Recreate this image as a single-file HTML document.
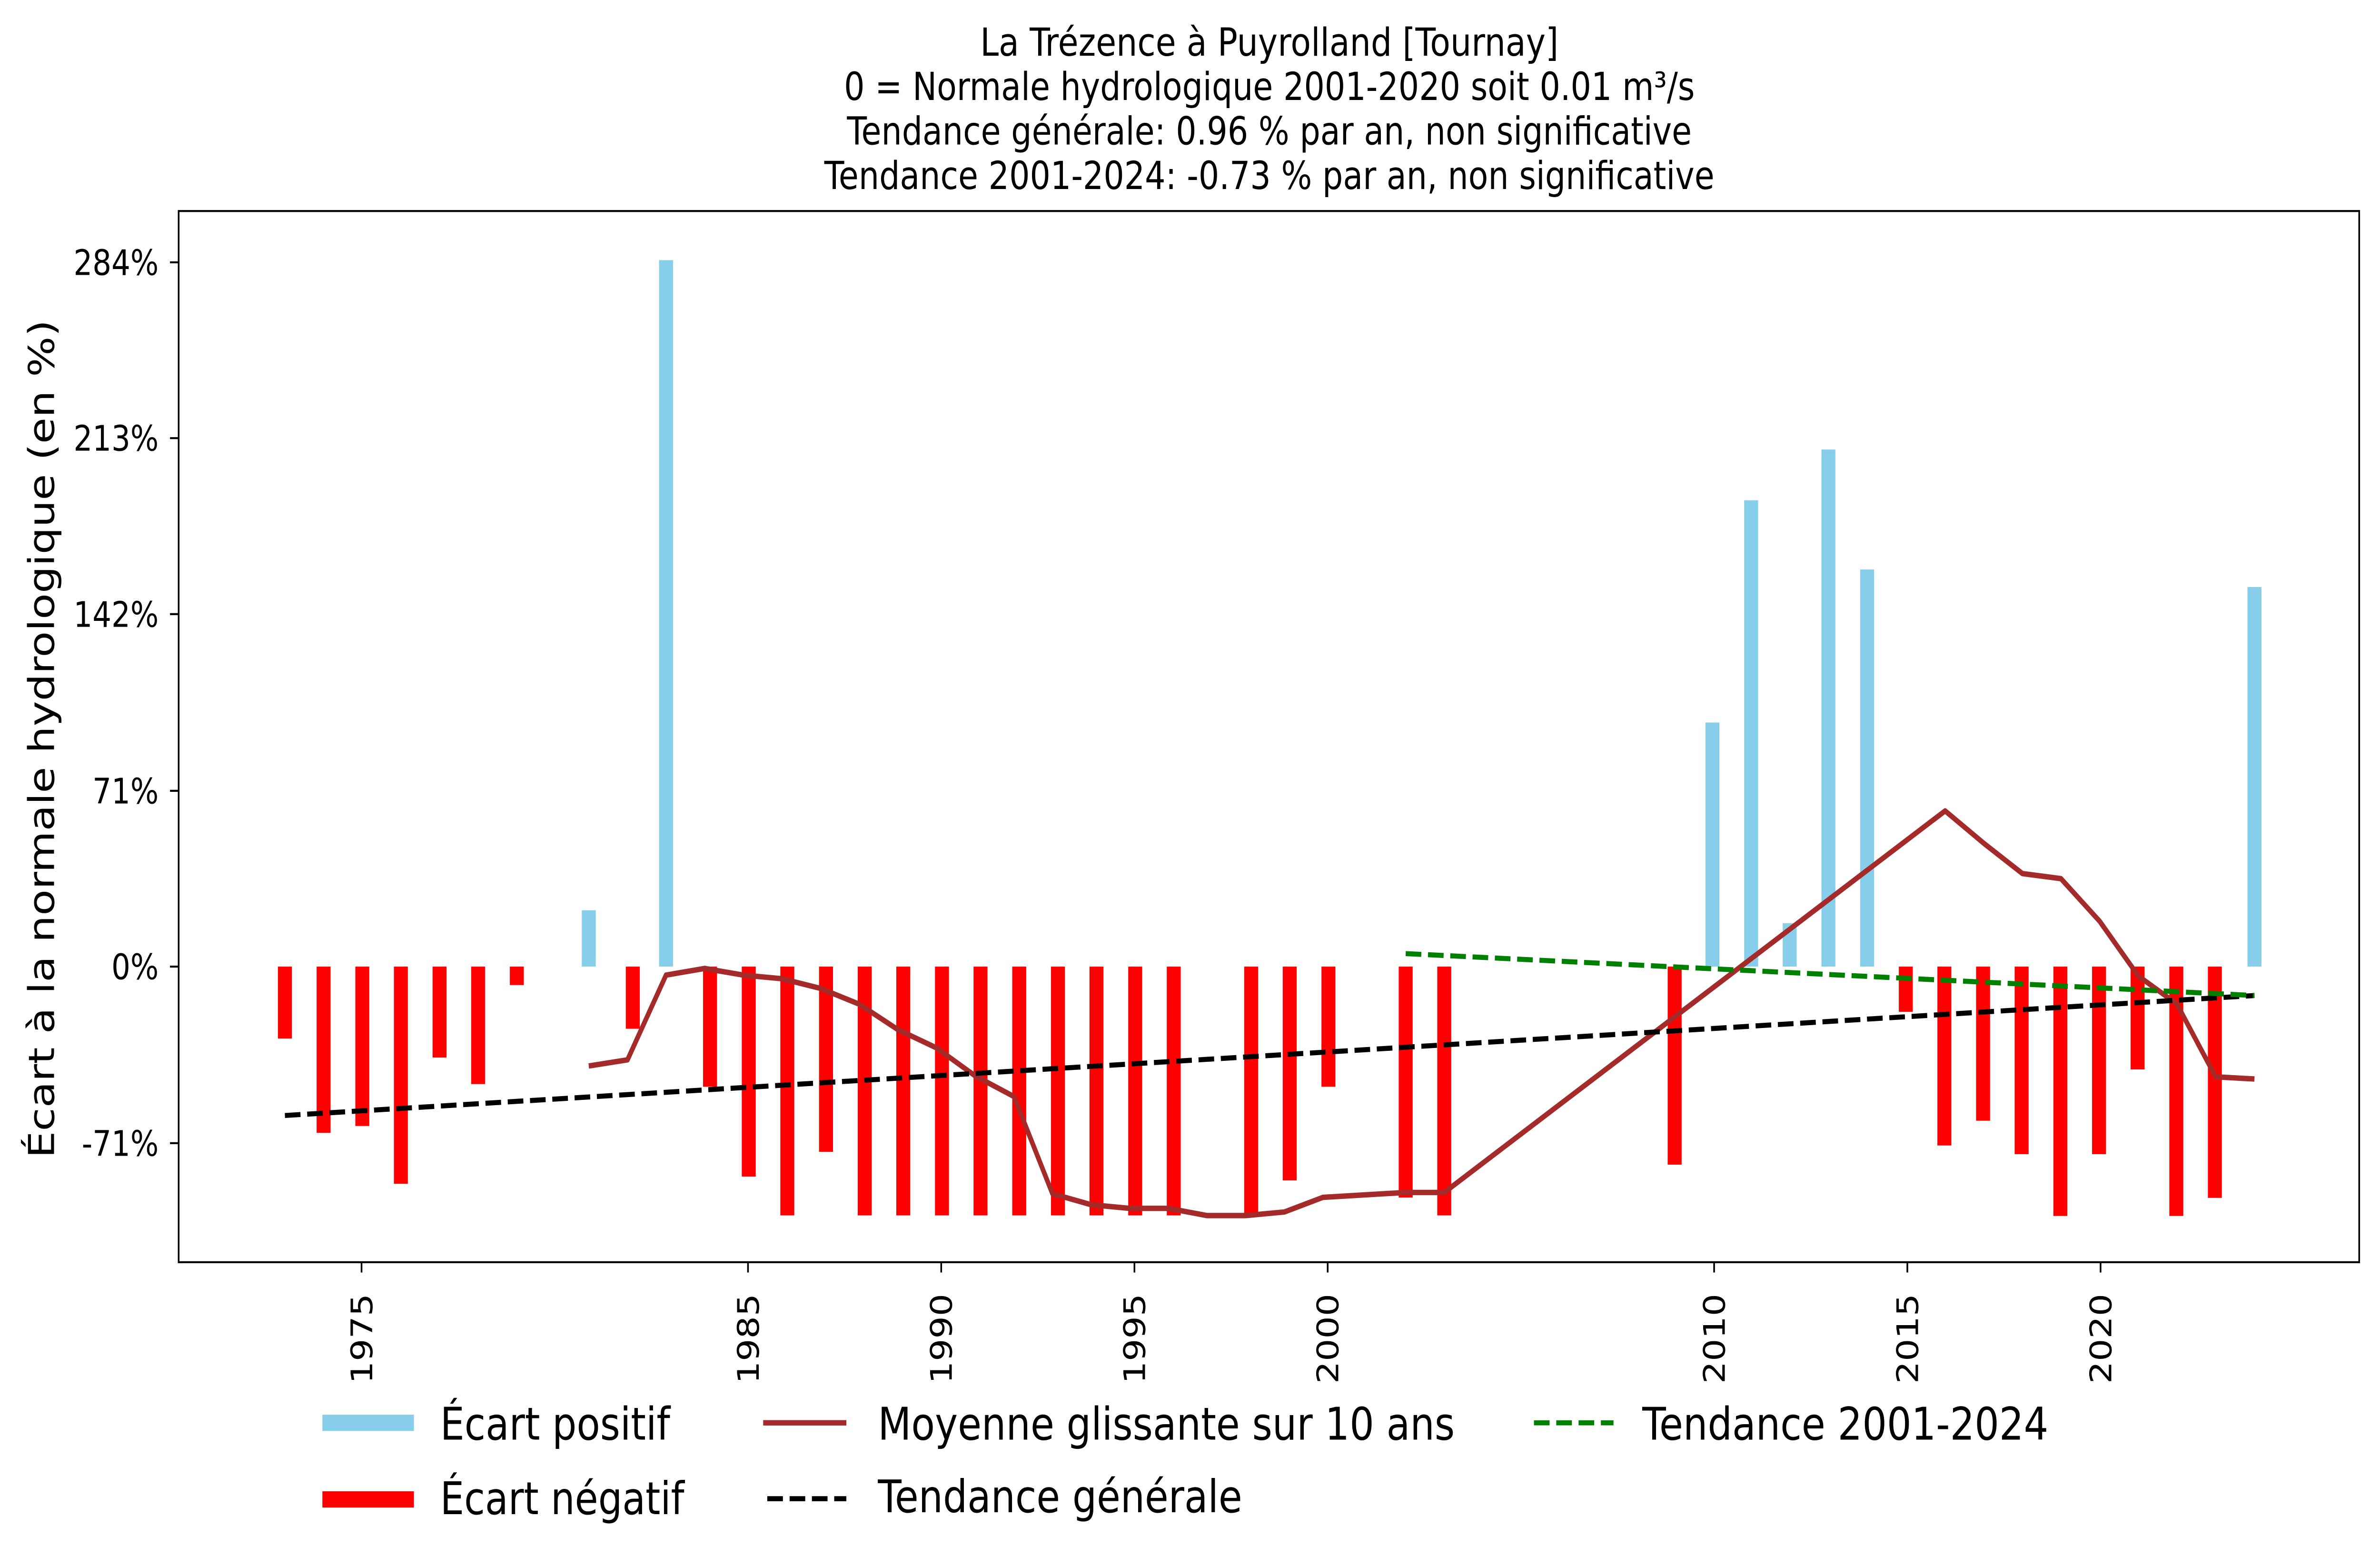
<!DOCTYPE html>
<html><head><meta charset="utf-8"><style>
html,body{margin:0;padding:0;background:#fff;width:100%;height:100%;overflow:hidden;}
svg{display:block;width:100vw;height:100vh;}
text{font-family:"DejaVu Sans","Liberation Sans",sans-serif;fill:#000;}
</style></head><body>
<svg xmlns="http://www.w3.org/2000/svg" viewBox="0 0 1568 867.3" preserveAspectRatio="none">
<rect x="0" y="0" width="1568" height="867.3" fill="#fff"/>
<g font-size="21.4" text-anchor="middle">
<text x="836.3" y="30.8" textLength="381" lengthAdjust="spacingAndGlyphs">La Trézence à Puyrolland [Tournay]</text>
<text x="836.3" y="55.3">0 = Normale hydrologique 2001-2020 soit 0.01 m³/s</text>
<text x="836.3" y="80">Tendance générale: 0.96 % par an, non significative</text>
<text x="836.3" y="104.6">Tendance 2001-2024: -0.73 % par an, non significative</text>
</g>
<g fill="#87ceeb">
<rect x="383.3" y="503.8" width="9.2" height="31.2"/>
<rect x="434.2" y="144" width="9.2" height="391"/>
<rect x="1123.6" y="399.9" width="9.2" height="135.1"/>
<rect x="1149.1" y="276.9" width="9.2" height="258.1"/>
<rect x="1174.5" y="511" width="9.2" height="24"/>
<rect x="1200" y="248.8" width="9.2" height="286.2"/>
<rect x="1225.5" y="315.2" width="9.2" height="219.8"/>
<rect x="1480.7" y="324.9" width="9.2" height="210.1"/>
</g>
<g fill="#ff0000">
<rect x="183.1" y="535" width="9.2" height="39.8"/>
<rect x="208.6" y="535" width="9.2" height="92"/>
<rect x="234.1" y="535" width="9.2" height="88.2"/>
<rect x="259.5" y="535" width="9.2" height="120.2"/>
<rect x="285" y="535" width="9.2" height="50.3"/>
<rect x="310.4" y="535" width="9.2" height="65"/>
<rect x="335.9" y="535" width="9.2" height="10.2"/>
<rect x="412.3" y="535" width="9.2" height="34.4"/>
<rect x="463.2" y="535" width="9.2" height="66.5"/>
<rect x="488.7" y="535" width="9.2" height="116.2"/>
<rect x="514.1" y="535" width="9.2" height="137.7"/>
<rect x="539.6" y="535" width="9.2" height="102.5"/>
<rect x="565.1" y="535" width="9.2" height="137.7"/>
<rect x="590.5" y="535" width="9.2" height="137.7"/>
<rect x="616" y="535" width="9.2" height="137.7"/>
<rect x="641.4" y="535" width="9.2" height="137.7"/>
<rect x="666.9" y="535" width="9.2" height="137.7"/>
<rect x="692.4" y="535" width="9.2" height="137.7"/>
<rect x="717.8" y="535" width="9.2" height="137.7"/>
<rect x="743.3" y="535" width="9.2" height="137.7"/>
<rect x="768.7" y="535" width="9.2" height="137.7"/>
<rect x="819.7" y="535" width="9.2" height="137.7"/>
<rect x="845.1" y="535" width="9.2" height="118.3"/>
<rect x="870.6" y="535" width="9.2" height="66.5"/>
<rect x="921.5" y="535" width="9.2" height="127.8"/>
<rect x="946.9" y="535" width="9.2" height="137.7"/>
<rect x="1098.7" y="535" width="9.2" height="109.6"/>
<rect x="1251" y="535" width="9.2" height="25"/>
<rect x="1276.4" y="535" width="9.2" height="99"/>
<rect x="1301.9" y="535" width="9.2" height="85.3"/>
<rect x="1327.3" y="535" width="9.2" height="103.8"/>
<rect x="1352.8" y="535" width="9.2" height="138"/>
<rect x="1378.3" y="535" width="9.2" height="103.8"/>
<rect x="1403.7" y="535" width="9.2" height="56.9"/>
<rect x="1429.2" y="535" width="9.2" height="138"/>
<rect x="1454.6" y="535" width="9.2" height="128"/>
</g>
<polyline fill="none" stroke="#a52a2a" stroke-width="3" stroke-linejoin="round" points="387.9,590 413.4,586.6 438.8,539.7 464.3,536 489.7,539.7 515.2,541.7 540.7,547.1 566.1,555.8 591.6,569.9 617,580 642.5,595.5 668,606.9 693.4,660.7 718.9,666.8 744.3,668.8 769.8,668.8 795.3,672.8 820.7,672.8 846.2,670.8 871.6,662.7 926.1,660 951.5,660 1281.5,448.8 1306.9,466.7 1332.4,483.5 1357.8,486.3 1383.3,509.9 1408.8,540.2 1434.2,555.7 1459.7,596 1485.3,597.2"/>
<line x1="187.7" y1="617.4" x2="1485.3" y2="551" stroke="#000" stroke-width="2.8" stroke-dasharray="10.3 4.4"/>
<line x1="926.1" y1="527.8" x2="1485.3" y2="551" stroke="#008000" stroke-width="2.8" stroke-dasharray="10.3 4.4"/>
<rect x="117.7" y="116.8" width="1436.6" height="581.8" fill="none" stroke="#000" stroke-width="1.1"/>
<g stroke="#000" stroke-width="1.1">
<line x1="112" y1="145.2" x2="117.7" y2="145.2"/>
<line x1="112" y1="242.5" x2="117.7" y2="242.5"/>
<line x1="112" y1="339.9" x2="117.7" y2="339.9"/>
<line x1="112" y1="437.7" x2="117.7" y2="437.7"/>
<line x1="112" y1="535" x2="117.7" y2="535"/>
<line x1="112" y1="632.7" x2="117.7" y2="632.7"/>
<line x1="238.2" y1="698.6" x2="238.2" y2="704.3"/>
<line x1="492.8" y1="698.6" x2="492.8" y2="704.3"/>
<line x1="620.1" y1="698.6" x2="620.1" y2="704.3"/>
<line x1="747.4" y1="698.6" x2="747.4" y2="704.3"/>
<line x1="874.7" y1="698.6" x2="874.7" y2="704.3"/>
<line x1="1129.3" y1="698.6" x2="1129.3" y2="704.3"/>
<line x1="1256.6" y1="698.6" x2="1256.6" y2="704.3"/>
<line x1="1383.9" y1="698.6" x2="1383.9" y2="704.3"/>
</g>
<g font-size="19.6" text-anchor="end">
<text x="104.5" y="152.2">284%</text>
<text x="104.5" y="249.5">213%</text>
<text x="104.5" y="346.9">142%</text>
<text x="104.5" y="444.7">71%</text>
<text x="104.5" y="542">0%</text>
<text x="104.5" y="639.7">-71%</text>
</g>
<g font-size="19.6" text-anchor="end">
<text transform="translate(245.2,716) rotate(-90)">1975</text>
<text transform="translate(499.8,716) rotate(-90)">1985</text>
<text transform="translate(627.1,716) rotate(-90)">1990</text>
<text transform="translate(754.4,716) rotate(-90)">1995</text>
<text transform="translate(881.7,716) rotate(-90)">2000</text>
<text transform="translate(1136.3,716) rotate(-90)">2010</text>
<text transform="translate(1263.6,716) rotate(-90)">2015</text>
<text transform="translate(1390.9,716) rotate(-90)">2020</text>
</g>
<text font-size="23.4" text-anchor="middle" transform="translate(35.6,409) rotate(-90)" textLength="464" lengthAdjust="spacingAndGlyphs">Écart à la normale hydrologique (en %)</text>
<rect x="212.4" y="783" width="60.3" height="9" fill="#87ceeb"/>
<rect x="212.4" y="825.4" width="60.3" height="9" fill="#ff0000"/>
<line x1="502.8" y1="787.5" x2="557.6" y2="787.5" stroke="#a52a2a" stroke-width="3"/>
<line x1="505.5" y1="829.5" x2="557.6" y2="829.5" stroke="#000" stroke-width="2.8" stroke-dasharray="10.3 4.4"/>
<line x1="1010.6" y1="787.5" x2="1063" y2="787.5" stroke="#008000" stroke-width="2.8" stroke-dasharray="10.3 4.4"/>
<g font-size="25">
<text x="290" y="796.8" textLength="151.5" lengthAdjust="spacingAndGlyphs">Écart positif</text>
<text x="290" y="838">Écart négatif</text>
<text x="578.4" y="796.8" textLength="380" lengthAdjust="spacingAndGlyphs">Moyenne glissante sur 10 ans</text>
<text x="578.4" y="837" textLength="240" lengthAdjust="spacingAndGlyphs">Tendance générale</text>
<text x="1082" y="796.8" textLength="267.5" lengthAdjust="spacingAndGlyphs">Tendance 2001-2024</text>
</g>
</svg>
</body></html>
